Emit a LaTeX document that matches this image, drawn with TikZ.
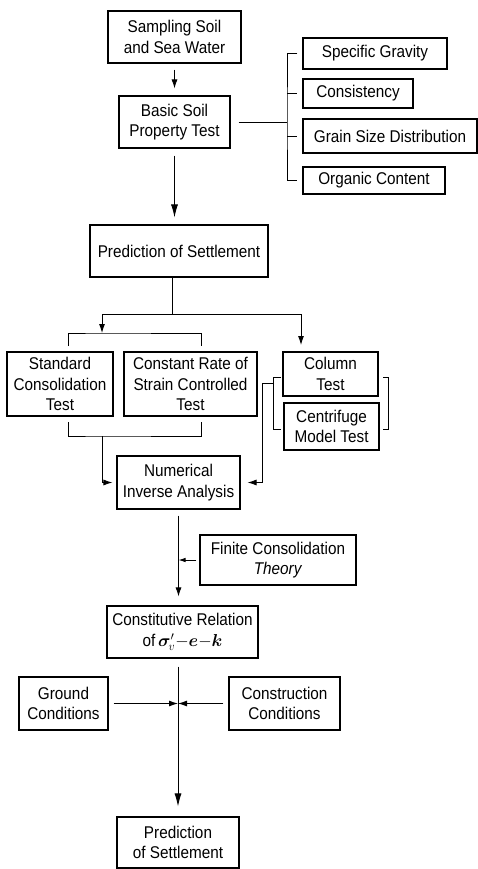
\documentclass[tikz,border=0pt]{standalone}
\usepackage{amsmath}
\usepackage{fontspec}
\setmainfont{Liberation Sans}[FakeStretch=0.9]
\usetikzlibrary{arrows.meta}

\begin{document}
\begin{tikzpicture}[x=1pt,y=-1pt,>={Latex[length=9pt,width=6pt]},
  line width=0.9pt,
  box/.style={draw, line width=1.1pt, align=center, inner sep=0pt,
    font=\fontsize{17}{20.5}\selectfont},
  big/.style={>={Latex[length=13pt,width=7pt]}},
  small/.style={>={Latex[length=7pt,width=4.5pt]}}]
  \useasboundingbox (0,0) rectangle (478,869);

  % main column
  \node[box, minimum width=133pt, minimum height=52pt] (samp) at (174.5,37) {Sampling Soil\\and Sea Water};
  \node[box, minimum width=111pt, minimum height=52pt] (basic) at (174.5,122) {Basic Soil\\Property Test};
  \node[box, minimum width=178pt, minimum height=52pt] (pred) at (179,251) {Prediction of Settlement};

  % property tests
  \node[box, minimum width=144pt, minimum height=31pt] (spec) at (375,53.5) {Specific Gravity};
  \node[box, minimum width=110pt, minimum height=29pt] (cons) at (358,93.5) {Consistency};
  \node[box, minimum width=174pt, minimum height=34pt] (grain) at (390,136) {Grain Size Distribution};
  \node[box, minimum width=142pt, minimum height=27pt] (organ) at (374,180.5) {Organic Content};

  % laboratory and model tests
  \node[box, minimum width=106pt, minimum height=64pt] (std) at (60,384) {Standard\\Consolidation\\Test};
  \node[box, minimum width=133pt, minimum height=64pt] (crs) at (190.5,384) {Constant Rate of\\Strain Controlled\\Test};
  \node[box, minimum width=95pt, minimum height=44pt] (col) at (330.5,374) {Column\\Test};
  \node[box, minimum width=95pt, minimum height=47pt] (cen) at (331.5,426.5) {Centrifuge\\Model Test};

  \node[box, minimum width=123pt, minimum height=53pt] (num) at (178.5,482.5) {Numerical\\Inverse Analysis};
  \node[box, minimum width=156pt, minimum height=50pt] (fin) at (278,560) {Finite Consolidation\\\textit{Theory}};
  \node[box, minimum width=151pt, minimum height=52pt] (const) at (182.5,632)
    {Constitutive Relation\\of\,$\boldsymbol{\sigma}_{\!v}'{-}\boldsymbol{e}{-}\boldsymbol{k}$};
  \node[box, minimum width=89pt, minimum height=53pt] (grd) at (63.5,703.5) {Ground\\Conditions};
  \node[box, minimum width=111pt, minimum height=53pt] (constr) at (284.5,703.5) {Construction\\Conditions};
  \node[box, minimum width=122pt, minimum height=51pt] (pred2) at (178,842.5) {Prediction\\of Settlement};

  % helper points
  \coordinate (brk) at (287,120);
  \coordinate (split) at (172,314);
  \coordinate (labtop) at (102,333);
  \coordinate (coltop) at (301,345);
  \coordinate (labbot) at (102,436);
  \coordinate (modl) at (273,383);
  \coordinate (meet) at (pred2.north |- grd.east);

  % connectors
  \draw[->, shorten <=6pt, shorten >=7pt] (samp) -- (basic);
  \draw[->, big, shorten <=7pt, shorten >=7pt] (basic.south) -- (basic.south |- pred.north);
  \draw ([xshift=8pt]basic.east) -- (basic.east -| brk);
  \draw ([xshift=-5pt]spec.west) -| (brk) |- ([xshift=-5pt]organ.west);
  \foreach \t in {cons,grain}
    \draw (brk |- \t.west) -- ([xshift=-5pt]\t.west);

  \draw ([xshift=-7pt]pred.south) -- (split);
  \draw[->] (split) -| (labtop);
  \draw[->] (split) -| (coltop);

  % brackets
  \draw (68,346) |- (labtop) -| (201,346);
  \draw (68,422) |- (labbot) -| (201,422);
  \draw (281,377) -| (273,429) -- (281,429);
  \draw (383,377) -| (388,429) -- (383,429);

  \draw[->, shorten >=4pt] (labbot) |- (num.west);
  \draw[->, shorten >=7pt] (modl) -- (262,383) |- (num.east);

  \draw[->, shorten <=6pt, shorten >=9pt] (num.south) -- (num.south |- const.north);
  \draw[->, small, shorten <=3pt] (fin.west) -- (fin.west -| num.south);
  \draw[->, big, shorten <=8pt, shorten >=10pt] (pred2.north |- const.south) -- (pred2.north);
  \draw[->, shorten <=5pt] (grd.east) -- (meet);
  \draw[->, shorten <=5pt] (constr.west) -- (meet);
\end{tikzpicture}
\end{document}
